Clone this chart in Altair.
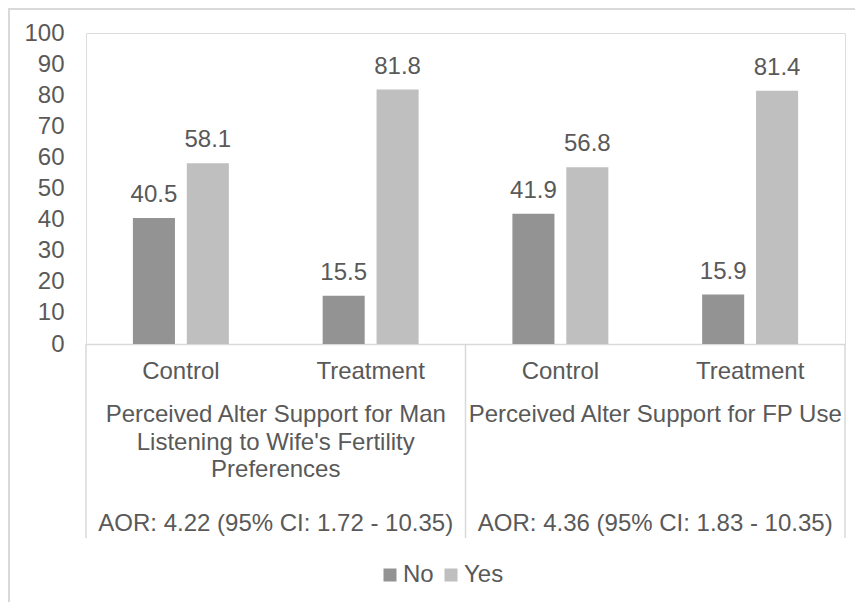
import altair as alt
import pandas as pd

# ---- data ----
group_ids = ["G1", "G1", "G2", "G2"]
arms = ["Control", "Treatment", "Control", "Treatment"]
no_vals = [40.5, 15.5, 41.9, 15.9]
yes_vals = [58.1, 81.8, 56.8, 81.4]
series = ["No", "Yes"]
group_titles = [
    "Perceived Alter Support for Man\nListening to Wife's Fertility\nPreferences",
    "Perceived Alter Support for FP Use",
]
group_aor = [
    "AOR: 4.22 (95% CI: 1.72 - 10.35)",
    "AOR: 4.36 (95% CI: 1.83 - 10.35)",
]
y_ticks = list(range(0, 101, 10))

keys = [f"{g}|{a}" for g, a in zip(group_ids, arms)]

rows = []
for k, n, y in zip(keys, no_vals, yes_vals):
    rows.append({"key": k, "series": "No", "value": n})
    rows.append({"key": k, "series": "Yes", "value": y})
bars_df = pd.DataFrame(rows)

groups_df = pd.DataFrame({
    "center_key": ["G1|Treatment", "G2|Treatment"],
    "title": group_titles,
    "aor": group_aor,
})
left_edges = pd.DataFrame({"key": ["G1|Control", "G2|Control"]})
right_edges = pd.DataFrame({"key": ["G2|Treatment"]})
one = pd.DataFrame({"a": [0]})

FONT = "Liberation Sans"
TXT = "#595959"
LINE = "#d9d9d9"
FS = 24

xscale = alt.Scale(domain=keys, paddingInner=0, paddingOuter=0)
xoff_scale = alt.Scale(domain=series, paddingInner=0.22, paddingOuter=0.87)
yscale = alt.Scale(domain=[0, 100], nice=False)

x_axis = alt.Axis(
    labelExpr="split(datum.label, '|')[1]", labelAngle=0, labelAlign="center",
    bandPosition=0.5, ticks=False, labelOverlap=False,
    domainColor=LINE, domainWidth=1.5, labelPadding=15, labelFontSize=FS,
    labelColor=TXT, labelFont=FONT,
)
y_axis = alt.Axis(
    values=y_ticks, tickCount=11, grid=False, domain=False, ticks=False,
    labelPadding=22, labelOverlap=False, labelFontSize=FS, labelColor=TXT,
    labelFont=FONT,
)
x_enc = alt.X("key:N", scale=xscale, sort=keys, title=None, axis=x_axis)
y_enc = alt.Y("value:Q", scale=yscale, title=None, axis=y_axis)

bars = alt.Chart(bars_df).mark_bar().encode(
    x=x_enc,
    xOffset=alt.XOffset("series:N", scale=xoff_scale, sort=series),
    y=y_enc,
    color=alt.Color(
        "series:N", sort=series,
        scale=alt.Scale(domain=series, range=["#939393", "#bfbfbf"]),
        legend=alt.Legend(
            title=None, orient="none", legendX=292, legendY=530, direction="horizontal",
            symbolType="square", symbolSize=169, symbolStrokeWidth=0,
            labelFontSize=FS, labelColor=TXT, labelFont=FONT, labelOffset=1,
            columnPadding=5, padding=0,
        ),
    ),
)

labels = alt.Chart(bars_df).mark_text(
    baseline="middle", dy=-23, fontSize=FS, font=FONT, color=TXT
).encode(
    x=x_enc,
    xOffset=alt.XOffset("series:N", scale=xoff_scale, sort=series),
    y=y_enc,
    text=alt.Text("value:Q", format=".1f"),
)

sep_left = alt.Chart(left_edges).mark_rule(color=LINE, strokeWidth=1.5).encode(
    x=alt.X("key:N", scale=xscale, sort=keys, bandPosition=0, axis=x_axis, title=None),
    y=alt.value(311), y2=alt.value(505),
)
sep_right = alt.Chart(right_edges).mark_rule(color=LINE, strokeWidth=1.5).encode(
    x=alt.X("key:N", scale=xscale, sort=keys, bandPosition=1, axis=x_axis, title=None),
    y=alt.value(311), y2=alt.value(505),
)

titles = alt.Chart(groups_df).mark_text(
    baseline="top", align="center", fontSize=FS, font=FONT, color=TXT,
    lineBreak="\n", lineHeight=27.5,
).encode(
    x=alt.X("center_key:N", scale=xscale, sort=keys, bandPosition=0, axis=x_axis, title=None),
    y=alt.value(370),
    text="title:N",
)
aors = alt.Chart(groups_df).mark_text(
    baseline="middle", align="center", fontSize=FS, font=FONT, color=TXT,
).encode(
    x=alt.X("center_key:N", scale=xscale, sort=keys, bandPosition=0, axis=x_axis, title=None),
    y=alt.value(491),
    text="aor:N",
)

border_left = alt.Chart(one).mark_rule(color=LINE, strokeWidth=2).encode(
    x=alt.value(-77), y=alt.value(-25), y2=alt.value(569),
)
border_top = alt.Chart(one).mark_rule(color=LINE, strokeWidth=2).encode(
    y=alt.value(-24), x=alt.value(-78), x2=alt.value(769),
)

chart = alt.layer(
    border_left, border_top, sep_left, sep_right, bars, labels, titles, aors
).properties(
    width=759, height=311,
    autosize=alt.AutoSizeParams(type="none"),
    padding={"left": 78, "top": 25, "right": 10, "bottom": 258},
).configure_view(stroke=None).configure(background="white").configure_axisY(
    labelOverlap=False
)

chart.save("out.html", embed_options={"renderer": "svg", "actions": False})
